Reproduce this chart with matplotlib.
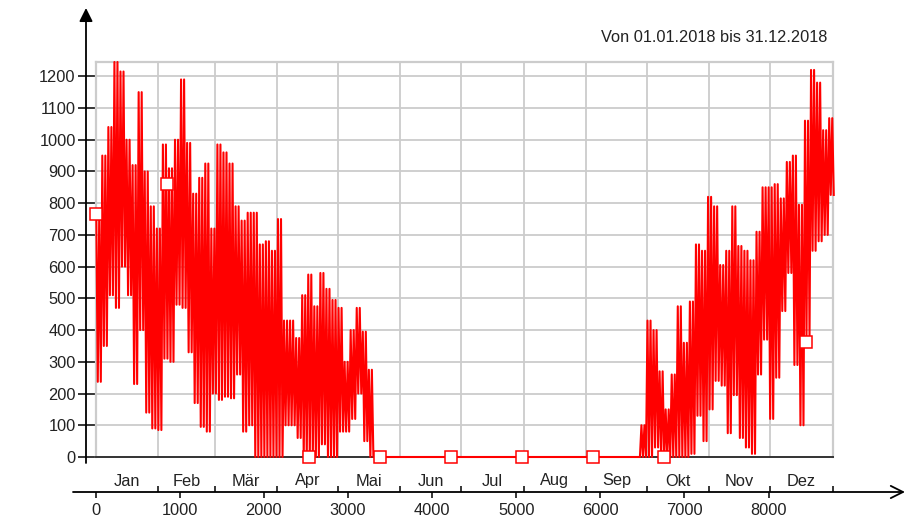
import numpy as np
import matplotlib
matplotlib.use("Agg")
import matplotlib.pyplot as plt
import matplotlib.transforms as mtransforms

plt.rcParams['font.family'] = ['Liberation Sans', 'DejaVu Sans']

# hourly load, summarised as max / min per 72 h block
bin_hours = 72
hi_spring = [780, 950, 1040, 1245, 1215, 1000, 920, 1150, 900, 790, 720, 985, 910,
             1000, 1190, 990, 830, 880, 925, 720, 985, 960, 925, 790, 745, 770,
             770, 670, 680, 650, 750, 430, 430, 375, 510, 575, 475, 580, 530,
             495, 470, 300, 400, 470, 395, 275]
lo_spring = [237, 350, 510, 470, 600, 510, 230, 400, 140, 90, 85, 310, 300,
             480, 470, 330, 170, 95, 80, 200, 180, 190, 185, 260, 80, 100,
             0, 0, 0, 0, 0, 100, 100, 60, 0, 0, 0, 40, 0,
             0, 80, 80, 120, 200, 50, 0]
n_summer = 44  # blocks with zero load
hi_autumn = [100, 430, 400, 270, 150, 260, 475, 360, 490, 670, 650, 820, 790,
             605, 650, 790, 665, 650, 620, 710, 850, 850, 860, 815, 930, 950,
             795, 1060, 1220, 1180, 1030, 1068]
lo_autumn = [0, 0, 30, 0, 0, 0, 0, 0, 10, 130, 50, 150, 240,
             225, 75, 195, 60, 30, 10, 260, 370, 120, 250, 460, 580, 290,
             100, 380, 650, 680, 700, 826]

marker_hours = [0, 845, 2535, 3380, 4225, 5070, 5915, 6760, 8450]
marker_vals = [765, 862, 0, 0, 0, 0, 0, 0, 362]

months = ['Jan', 'Feb', 'Mär', 'Apr', 'Mai', 'Jun', 'Jul', 'Aug', 'Sep', 'Okt', 'Nov', 'Dez']
month_days = [31, 28, 31, 30, 31, 30, 31, 31, 30, 31, 30, 31]
title = 'Von 01.01.2018 bis 31.12.2018'

hi = np.array(hi_spring + [0] * n_summer + hi_autumn, dtype=float)
lo = np.array(lo_spring + [0] * n_summer + lo_autumn, dtype=float)
start = np.arange(len(hi)) * bin_hours
# min/max rendering: each block swings between its max and min twice
offs = np.array([0.125, 0.375, 0.625, 0.875]) * bin_hours
xs = (start[:, None] + offs[None, :]).ravel()
ys = np.column_stack([hi, lo, hi, lo]).ravel()

bounds = np.concatenate([[0], np.cumsum(month_days) * 24])
mids = (bounds[:-1] + bounds[1:]) / 2

W, H = 906, 520
fig = plt.figure(figsize=(W / 100, H / 100), dpi=100)
left, right, top, bottom = 95.5, 832.5, 62, 457
ax = fig.add_axes([left / W, 1 - bottom / H, (right - left) / W, (bottom - top) / H])

grid = '#cccccc'
ax.set_xlim(0, 8760)
ax.set_ylim(0, 1245)
for v in range(100, 1300, 100):
    ax.axhline(v, color=grid, lw=1.3, zorder=0)
for b in bounds[1:-1]:
    ax.axvline(b, color=grid, lw=1.3, zorder=0)
for s in ['top', 'right', 'left']:
    ax.spines[s].set_color(grid)
    ax.spines[s].set_linewidth(1.6)
ax.spines['bottom'].set_color('#333333')
ax.spines['bottom'].set_linewidth(1.4)

ax.plot(xs, ys, color='#ff0000', lw=1.5, clip_on=False, zorder=3)
ax.plot(marker_hours, marker_vals, linestyle='none', marker='s', ms=8, mfc='white',
        mec='#ff0000', mew=1.1, clip_on=False, zorder=4)

ax.set_xticks([])
ax.set_yticks(range(0, 1300, 100))
ax.tick_params(axis='y', direction='out', length=13.3, width=1.1, color='black',
               pad=1, labelsize=11.8, labelcolor='#222222')

# y axis arrow
ax.annotate('', xy=(86 / W, 1 - 8 / H), xytext=(86 / W, 1 - 463 / H),
            xycoords='figure fraction', textcoords='figure fraction',
            arrowprops=dict(arrowstyle='-|>', color='black', lw=1.3,
                            mutation_scale=20, shrinkA=0, shrinkB=0))
# x axis arrow
ax.annotate('', xy=(905 / W, 1 - 492 / H), xytext=(73 / W, 1 - 492 / H),
            xycoords='figure fraction', textcoords='figure fraction',
            arrowprops=dict(arrowstyle='->', color='black', lw=1.3,
                            mutation_scale=22, shrinkA=0, shrinkB=0))

# bottom axis with hour ticks and month boundaries
axx = fig.add_axes([left / W, 1 - 492 / H, (right - left) / W, 1e-6])
axx.set_xlim(0, 8760)
axx.set_ylim(0, 1)
for s in axx.spines.values():
    s.set_visible(False)
axx.set_yticks([])
axx.set_xticks(range(0, 9000, 1000))
axx.set_xticks(bounds, minor=True)
axx.tick_params(axis='x', which='major', direction='out', length=4.5, width=1.1,
                pad=3.5, labelsize=11.8, labelcolor='#222222')
axx.tick_params(axis='x', which='minor', direction='in', length=4, width=1.1)

trans = mtransforms.blended_transform_factory(axx.transData, fig.transFigure)
for m, x in zip(months, mids):
    axx.text(x, 1 - 481 / H, m, transform=trans, ha='center', va='center',
             fontsize=11.8, color='#222222')

fig.text(827 / W, 1 - 37 / H, title, ha='right', va='center', fontsize=11.8,
         color='#222222')

fig.savefig('out.png', dpi=100)
